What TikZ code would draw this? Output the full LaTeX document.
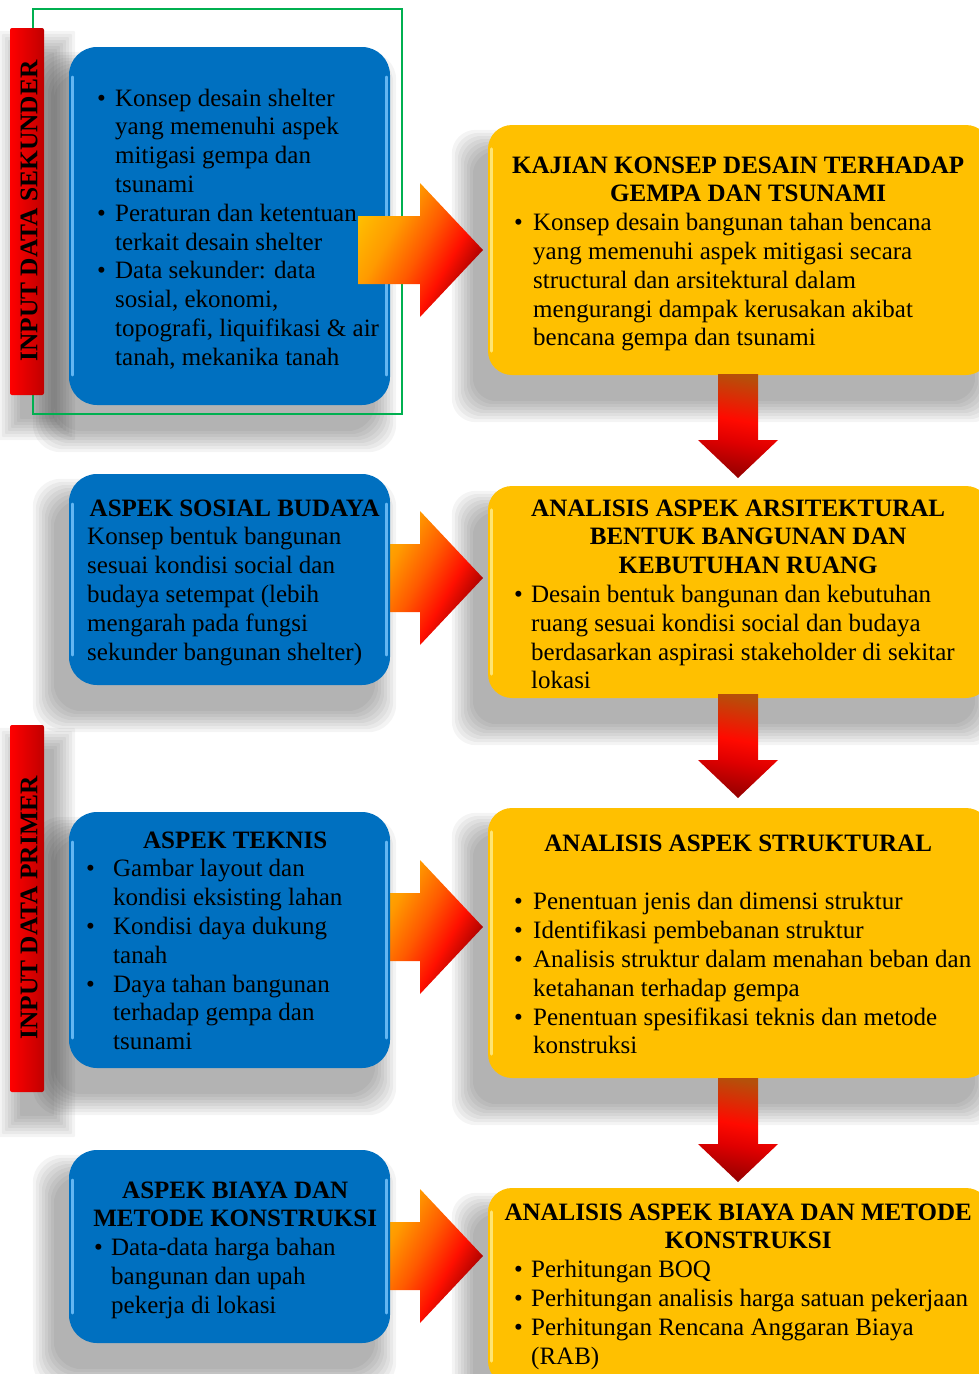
\documentclass[tikz,border=0pt]{standalone}
\usepackage{fontspec}
\setmainfont{Liberation Serif}
\usetikzlibrary{calc}
\pgfdeclarelayer{bg}
\pgfsetlayers{bg,main}
\definecolor{boxblue}{HTML}{0070C0}
\definecolor{boxyellow}{HTML}{FFC000}
\definecolor{framegreen}{HTML}{00B050}
\definecolor{hlblue}{HTML}{7CC8FF}
\definecolor{hlyellow}{HTML}{FFEA80}
\definecolor{aY}{HTML}{FFC000}
\definecolor{aO}{HTML}{FF9A00}
\definecolor{aM}{HTML}{FF5A00}
\definecolor{aR}{HTML}{FF1000}
\definecolor{aD}{HTML}{A00000}
\definecolor{dB}{HTML}{B5500A}
\definecolor{dR}{HTML}{FF0A00}
\definecolor{dRb}{HTML}{E00000}
\definecolor{dD}{HTML}{950000}
\definecolor{barred}{HTML}{FF0000}
\definecolor{bardark}{HTML}{C00000}
\pgfdeclarehorizontalshading{rarrshade}{100bp}{color(0bp)=(aY); color(22bp)=(aY); color(37bp)=(aO); color(50bp)=(aM); color(62bp)=(aR); color(73bp)=(aD); color(100bp)=(aD)}
\pgfdeclarehorizontalshading{darrshade}{100bp}{color(0bp)=(dB); color(25bp)=(dB); color(47bp)=(dR); color(58bp)=(dRb); color(75bp)=(dD); color(100bp)=(dD)}
\newcommand\bodyfont{\fontsize{25pt}{28.8pt}\selectfont}
\newcommand\bpt[1][19pt]{\makebox[#1][l]{\textbullet}}
\newcommand\bin[1][19pt]{\hspace*{#1}}
\newcommand\ctl[2]{\hspace*{#1pt}\makebox[0pt]{\bfseries #2}}
\newcommand\txtblock[1]{\begin{minipage}[t]{480pt}\bodyfont #1\end{minipage}}
% soft shadow: node, dx, dy, corner radius
\newcommand\softshadow[4]{\begin{pgfonlayer}{bg}\foreach \e in {0,3,...,21}{\fill[black, opacity=0.045, rounded corners=#4] ($(#1.north west)+(#2-\e,#3-\e)$) rectangle ($(#1.south east)+(#2+\e,#3+\e)$);}\end{pgfonlayer}}
\tikzset{
  bluebox/.style={rounded corners=28pt, fill=boxblue, minimum width=321pt, inner sep=0pt},
  yellowbox/.style={rounded corners=24pt, fill=boxyellow, minimum width=502pt, inner sep=0pt},
  redbar/.style={rounded corners=2pt, minimum width=34pt, minimum height=367pt, inner sep=0pt, left color=barred, middle color=barred, right color=bardark},
  barlabel/.style={rotate=90, inner sep=0pt, font=\fontsize{25.4pt}{28.8pt}\selectfont\bfseries},
  hlb/.style={hlblue, line width=2.5pt, line cap=round, opacity=0.8},
  hly/.style={hlyellow, line width=3pt, line cap=round, opacity=0.9},
  txt/.style={anchor=base west, inner sep=0pt},
  rarr/.style={insert path={-- ++(-63,-67) -- ++(0,33) -- ++(-62,0) -- ++(0,68) -- ++(62,0) -- ++(0,33) -- cycle}},
  darr/.style={insert path={-- ++(-40,-38) -- ++(20,0) -- ++(0,-66) -- ++(40,0) -- ++(0,66) -- ++(20,0) -- cycle}},
  rshade/.style={shading=rarrshade, shading angle=-30},
  dshade/.style={shading=darrshade, shading angle=-100}
}
\begin{document}
\begin{tikzpicture}[x=1pt, y=-1pt]
\path[use as bounding box] (0,0) rectangle (978,1374);
% yellow boxes
\node[yellowbox, minimum height=250pt] (y1) at (739,250) {};
\node[yellowbox, minimum height=212pt] (y2) at (739,592) {};
\node[yellowbox, minimum height=270pt] (y3) at (739,943) {};
\node[yellowbox, minimum height=197pt] (y4) at (739,1286.5) {};
\foreach \n in {y1,y2,y3,y4}{
  \softshadow{\n}{-15}{26}{24pt}
  \draw[hly] ([xshift=4pt,yshift=-24pt]\n.north west) -- ([xshift=4pt,yshift=24pt]\n.south west);
}
% right arrows 2-4 (behind blue boxes)
\coordinate (t2) at (483,578);
\coordinate (t3) at (483,927);
\coordinate (t4) at (483,1256);
\shade[rshade] (t2) [rarr];
\shade[rshade] (t3) [rarr];
\shade[rshade] (t4) [rarr];
% blue boxes
\node[bluebox, minimum height=358pt] (b1) at (229.5,226) {};
\node[bluebox, minimum height=211pt] (b2) at (229.5,579.5) {};
\node[bluebox, minimum height=256pt] (b3) at (229.5,940) {};
\node[bluebox, minimum height=193pt] (b4) at (229.5,1246.5) {};
\foreach \n in {b1,b2,b3,b4}{
  \softshadow{\n}{-15}{26}{28pt}
  \draw[hlb] ([xshift=3.5pt,yshift=-30pt]\n.north west) -- ([xshift=3.5pt,yshift=30pt]\n.south west);
  \draw[hlb] ([xshift=-3.5pt,yshift=-30pt]\n.north east) -- ([xshift=-3.5pt,yshift=30pt]\n.south east);
}
% green frame
\node[draw=framegreen, line width=2pt, minimum width=369pt, minimum height=405pt, inner sep=0pt] (frame) at (217.5,211.5) {};
% red bars
\node[redbar] (bar1) at (27,211.5) {};
\node[redbar] (bar2) at (27,908.5) {};
\softshadow{bar1}{10}{24}{2pt}
\softshadow{bar2}{10}{24}{2pt}
\node[barlabel] (lab1) at (29,211) {INPUT DATA SEKUNDER};
\node[barlabel] (lab2) at (29,908) {INPUT DATA PRIMER};
% arrow 1 and down arrows
\coordinate (t1) at (483,250);
\shade[rshade] (t1) [rarr];
\coordinate (d1) at (738,478);
\coordinate (d2) at (738,798);
\coordinate (d3) at (738,1182);
\shade[dshade] (d1) [darr];
\shade[dshade] (d2) [darr];
\shade[dshade] (d3) [darr];
% texts
\node[txt] (tb1) at (97,106) {\txtblock{%
\bpt[18pt]Konsep desain shelter\\
\bin[18pt]yang memenuhi aspek\\
\bin[18pt]mitigasi gempa dan\\
\bin[18pt]tsunami\\
\bpt[18pt]Peraturan dan ketentuan\\
\bin[18pt]terkait desain shelter\\
\bpt[18pt]Data sekunder: data\\
\bin[18pt]sosial, ekonomi,\\
\bin[18pt]topografi, liquifikasi \& air\\
\bin[18pt]tanah, mekanika tanah}};
\node[txt] (ty1) at (514,173) {\txtblock{%
\ctl{224}{KAJIAN KONSEP DESAIN TERHADAP}\\
\ctl{234}{GEMPA DAN TSUNAMI}\\
\bpt Konsep desain bangunan tahan bencana\\
\bin yang memenuhi aspek mitigasi secara\\
\bin structural dan arsitektural dalam\\
\bin mengurangi dampak kerusakan akibat\\
\bin bencana gempa dan tsunami}};
\node[txt] (tb2) at (87,516) {\txtblock{%
\ctl{147.5}{ASPEK SOSIAL BUDAYA}\\
Konsep bentuk bangunan\\
sesuai kondisi social dan\\
budaya setempat (lebih\\
mengarah pada fungsi\\
sekunder bangunan shelter)}};
\node[txt] (ty2) at (514,516) {\txtblock{%
\ctl{224}{ANALISIS ASPEK ARSITEKTURAL}\\
\ctl{234}{BENTUK BANGUNAN DAN}\\
\ctl{234}{KEBUTUHAN RUANG}\\
\bpt[17pt]Desain bentuk bangunan dan kebutuhan\\
\bin[17pt]ruang sesuai kondisi social dan budaya\\
\bin[17pt]berdasarkan aspirasi stakeholder di sekitar\\
\bin[17pt]lokasi}};
\node[txt] (tb3) at (86,848) {\txtblock{%
\ctl{149}{ASPEK TEKNIS}\\
\bpt[27pt]Gambar layout dan\\
\bin[27pt]kondisi eksisting lahan\\
\bpt[27pt]Kondisi daya dukung\\
\bin[27pt]tanah\\
\bpt[27pt]Daya tahan bangunan\\
\bin[27pt]terhadap gempa dan\\
\bin[27pt]tsunami}};
\node[txt] (ty3) at (514,851) {\txtblock{%
\ctl{224}{ANALISIS ASPEK STRUKTURAL}\\[30pt]
\bpt Penentuan jenis dan dimensi struktur\\
\bpt Identifikasi pembebanan struktur\\
\bpt Analisis struktur dalam menahan beban dan\\
\bin ketahanan terhadap gempa\\
\bpt Penentuan spesifikasi teknis dan metode\\
\bin konstruksi}};
\node[txt] (tb4) at (94,1198) {\txtblock{%
\ctl{141}{ASPEK BIAYA DAN}\\
\ctl{141}{METODE KONSTRUKSI}\\
\bpt[17pt]Data-data harga bahan\\
\bin[17pt]bangunan dan upah\\
\bin[17pt]pekerja di lokasi}};
\node[txt] (ty4) at (514,1220) {\txtblock{%
\ctl{224}{ANALISIS ASPEK BIAYA DAN METODE}\\
\ctl{234}{KONSTRUKSI}\\
\bpt[17pt]Perhitungan BOQ\\
\bpt[17pt]Perhitungan analisis harga satuan pekerjaan\\
\bpt[17pt]Perhitungan Rencana Anggaran Biaya\\
\bin[17pt](RAB)}};
\end{tikzpicture}
\end{document}
